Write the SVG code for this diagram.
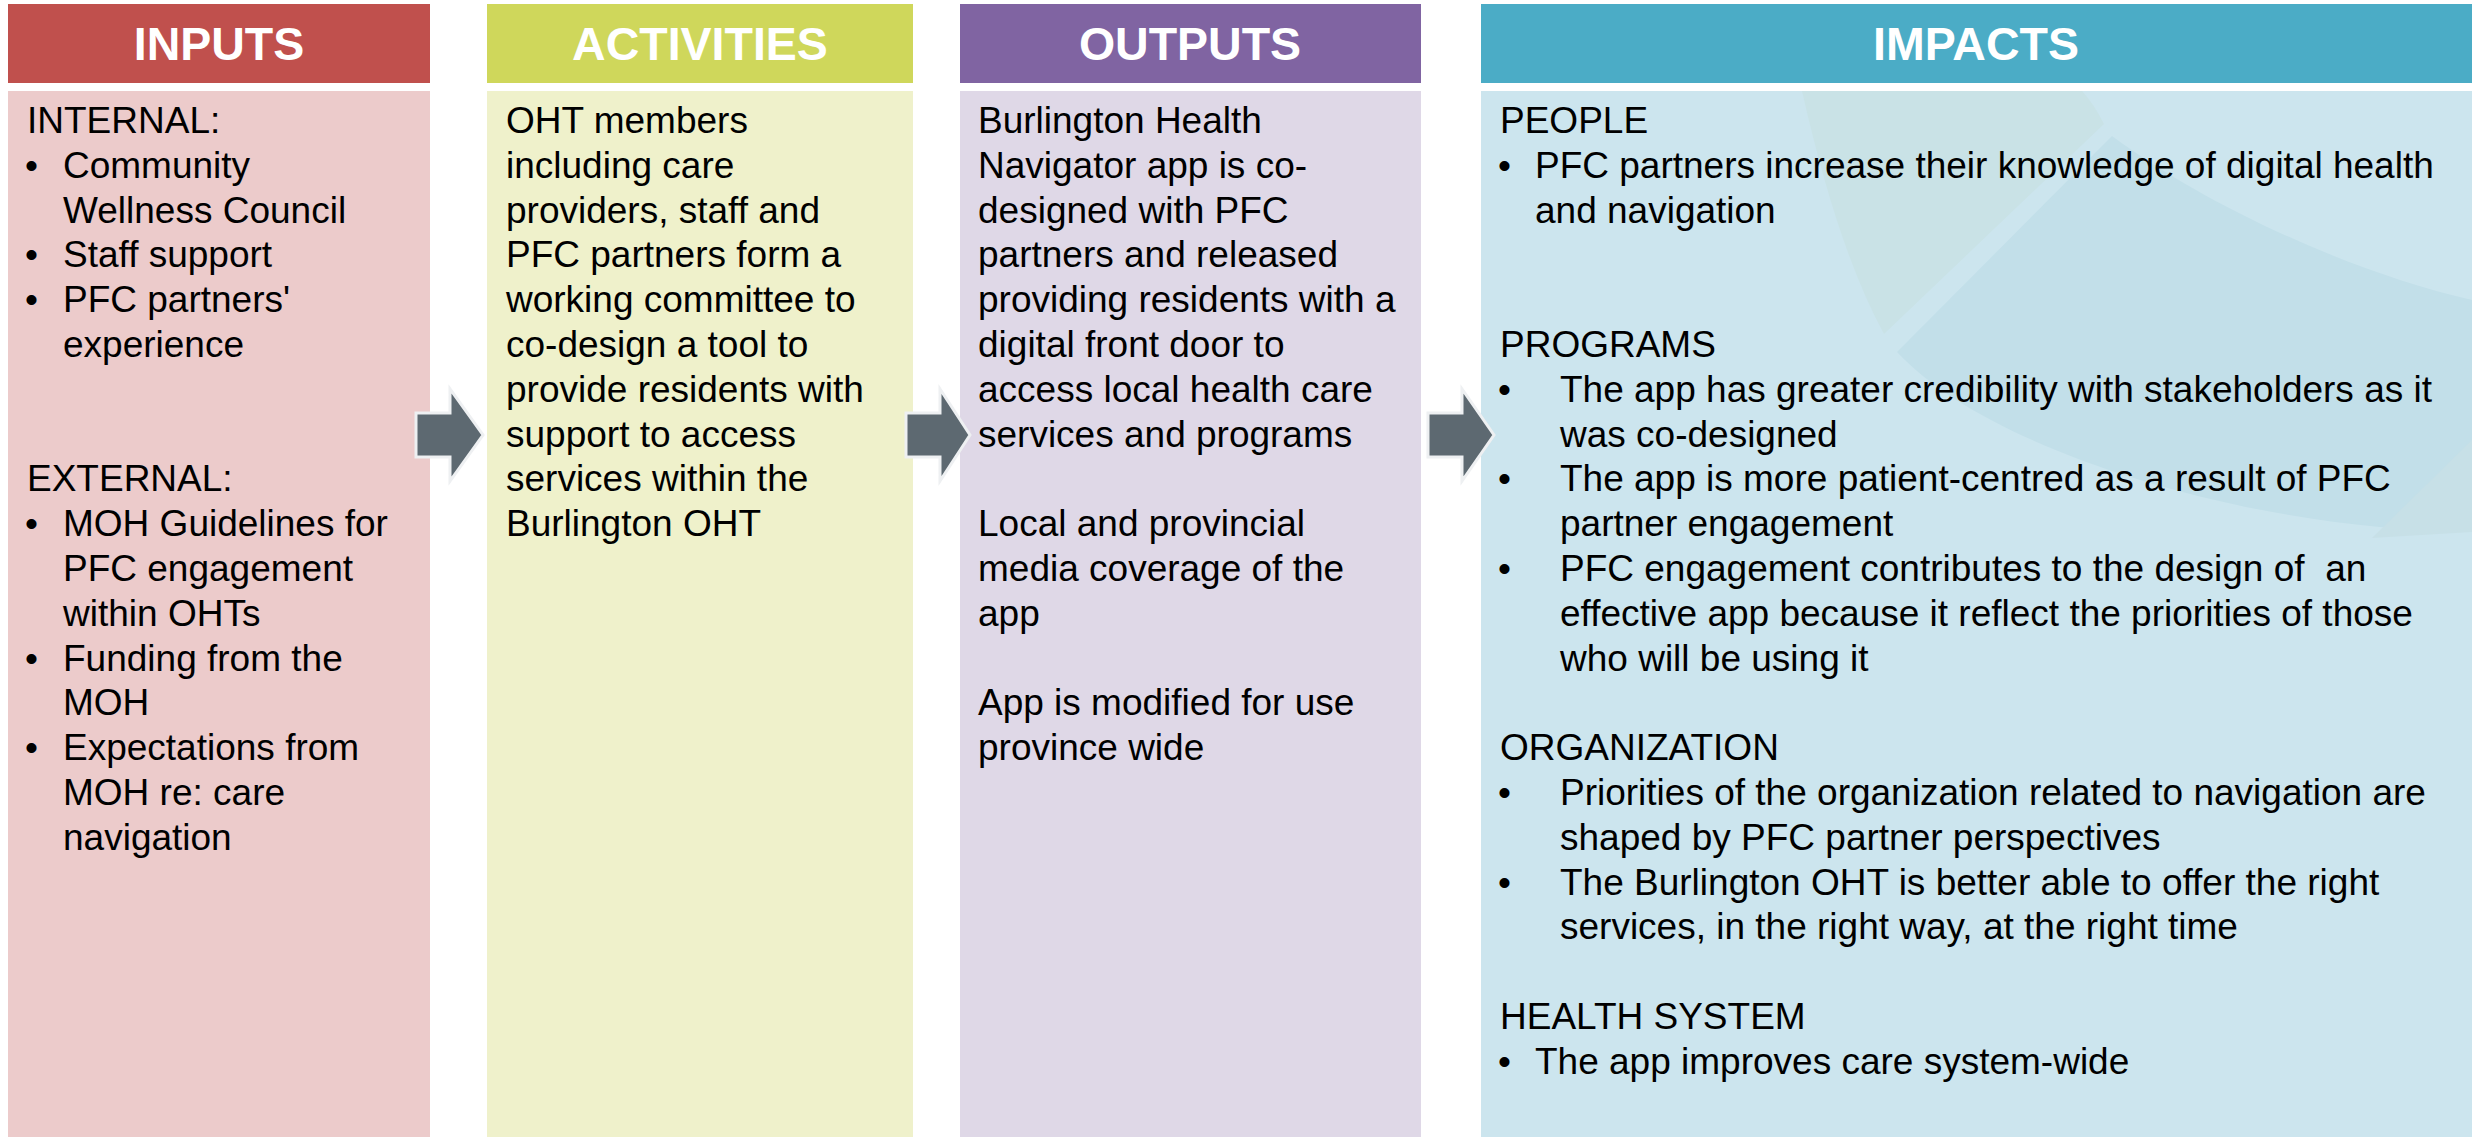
<svg xmlns="http://www.w3.org/2000/svg" width="2474" height="1137" viewBox="0 0 2474 1137">
  <style>
    .hdr-text { font-family: "Liberation Sans", Arial, sans-serif; font-weight: bold; font-size: 46.5px; fill: #ffffff; text-anchor: middle; }
    .body-text { font-family: "Liberation Sans", Arial, sans-serif; font-size: 37px; fill: #000000; }
    .arrow { fill: #5d6971; stroke: #eef0f2; stroke-width: 3; stroke-linejoin: miter; }
  </style>
  <defs>
    <clipPath id="impactsClip">
      <rect x="1481" y="91" width="991" height="1046"/>
    </clipPath>
  </defs>

  <rect x="0" y="0" width="2474" height="1137" fill="#ffffff"/>

  <!-- INPUTS column -->
  <g id="inputs">
    <rect x="8" y="4" width="422" height="79" fill="#c0504d"/>
    <text class="hdr-text" x="219" y="60">INPUTS</text>
    <rect x="8" y="91" width="422" height="1046" fill="#eccbcb"/>
    <g class="body-text">
      <text x="27" y="133">INTERNAL:</text>
      <text x="25" y="177.8">•</text><text x="63" y="177.8">Community</text>
      <text x="63" y="222.6">Wellness Council</text>
      <text x="25" y="267.4">•</text><text x="63" y="267.4">Staff support</text>
      <text x="25" y="312.2">•</text><text x="63" y="312.2">PFC partners'</text>
      <text x="63" y="357">experience</text>
      <text x="27" y="491.4">EXTERNAL:</text>
      <text x="25" y="536.2">•</text><text x="63" y="536.2">MOH Guidelines for</text>
      <text x="63" y="581">PFC engagement</text>
      <text x="63" y="625.8">within OHTs</text>
      <text x="25" y="670.6">•</text><text x="63" y="670.6">Funding from the</text>
      <text x="63" y="715.4">MOH</text>
      <text x="25" y="760.2">•</text><text x="63" y="760.2">Expectations from</text>
      <text x="63" y="805">MOH re: care</text>
      <text x="63" y="849.8">navigation</text>
    </g>
  </g>

  <!-- ACTIVITIES column -->
  <g id="activities">
    <rect x="487" y="4" width="426" height="79" fill="#cfd75b"/>
    <text class="hdr-text" x="700" y="60">ACTIVITIES</text>
    <rect x="487" y="91" width="426" height="1046" fill="#eff1cb"/>
    <g class="body-text">
      <text x="506" y="133">OHT members</text>
      <text x="506" y="177.8">including care</text>
      <text x="506" y="222.6">providers, staff and</text>
      <text x="506" y="267.4">PFC partners form a</text>
      <text x="506" y="312.2">working committee to</text>
      <text x="506" y="357">co-design a tool to</text>
      <text x="506" y="401.8">provide residents with</text>
      <text x="506" y="446.6">support to access</text>
      <text x="506" y="491.4">services within the</text>
      <text x="506" y="536.2">Burlington OHT</text>
    </g>
  </g>

  <!-- OUTPUTS column -->
  <g id="outputs">
    <rect x="960" y="4" width="461" height="79" fill="#8064a2"/>
    <text class="hdr-text" x="1190" y="60">OUTPUTS</text>
    <rect x="960" y="91" width="461" height="1046" fill="#dfd8e7"/>
    <g class="body-text">
      <text x="978" y="133">Burlington Health</text>
      <text x="978" y="177.8">Navigator app is co-</text>
      <text x="978" y="222.6">designed with PFC</text>
      <text x="978" y="267.4">partners and released</text>
      <text x="978" y="312.2">providing residents with a</text>
      <text x="978" y="357">digital front door to</text>
      <text x="978" y="401.8">access local health care</text>
      <text x="978" y="446.6">services and programs</text>
      <text x="978" y="536.2">Local and provincial</text>
      <text x="978" y="581">media coverage of the</text>
      <text x="978" y="625.8">app</text>
      <text x="978" y="715.4">App is modified for use</text>
      <text x="978" y="760.2">province wide</text>
    </g>
  </g>

  <!-- IMPACTS column -->
  <g id="impacts">
    <rect x="1481" y="4" width="991" height="79" fill="#4bacc6"/>
    <text class="hdr-text" x="1976" y="60">IMPACTS</text>
    <rect x="1481" y="91" width="991" height="1046" fill="#cce5ee"/>
    <!-- faint watermark shapes behind the text -->
    <g clip-path="url(#impactsClip)">
      <path d="M1802,91 Q1838,250 1884,334 L2104,124 Q2094,104 2082,91 Z" fill="#c9e2e6"/>
      <path d="M1897,352 L2112,136 C2205,205 2350,272 2472,300 L2472,532 C2250,530 1990,452 1897,352 Z" fill="#c2dfe9"/>
      <path d="M2372,538 L2472,440 L2472,532 Z" fill="#c7e0e7"/>
    </g>
    <g class="body-text">
      <text x="1500" y="133">PEOPLE</text>
      <text x="1498" y="177.8">•</text><text x="1535" y="177.8">PFC partners increase their knowledge of digital health</text>
      <text x="1535" y="222.6">and navigation</text>
      <text x="1500" y="357">PROGRAMS</text>
      <text x="1498" y="401.8">•</text><text x="1560" y="401.8">The app has greater credibility with stakeholders as it</text>
      <text x="1560" y="446.6">was co-designed</text>
      <text x="1498" y="491.4">•</text><text x="1560" y="491.4">The app is more patient-centred as a result of PFC</text>
      <text x="1560" y="536.2">partner engagement</text>
      <text x="1498" y="581">•</text><text x="1560" y="581" xml:space="preserve">PFC engagement contributes to the design of  an</text>
      <text x="1560" y="625.8">effective app because it reflect the priorities of those</text>
      <text x="1560" y="670.6">who will be using it</text>
      <text x="1500" y="760.2">ORGANIZATION</text>
      <text x="1498" y="805">•</text><text x="1560" y="805">Priorities of the organization related to navigation are</text>
      <text x="1560" y="849.8">shaped by PFC partner perspectives</text>
      <text x="1498" y="894.6">•</text><text x="1560" y="894.6">The Burlington OHT is better able to offer the right</text>
      <text x="1560" y="939.4">services, in the right way, at the right time</text>
      <text x="1500" y="1029">HEALTH SYSTEM</text>
      <text x="1498" y="1073.8">•</text><text x="1535" y="1073.8">The app improves care system-wide</text>
    </g>
  </g>

  <!-- connectors: block arrows between the columns -->
  <g id="connectors">
    <path class="arrow" d="M416,413 L450,413 L450,389 L483,435 L450,481 L450,457 L416,457 Z"/>
    <path class="arrow" d="M906,413 L940,413 L940,389 L970,435 L940,481 L940,457 L906,457 Z"/>
    <path class="arrow" d="M1428,413 L1462,413 L1462,389 L1494,435 L1462,481 L1462,457 L1428,457 Z"/>
  </g>
</svg>
